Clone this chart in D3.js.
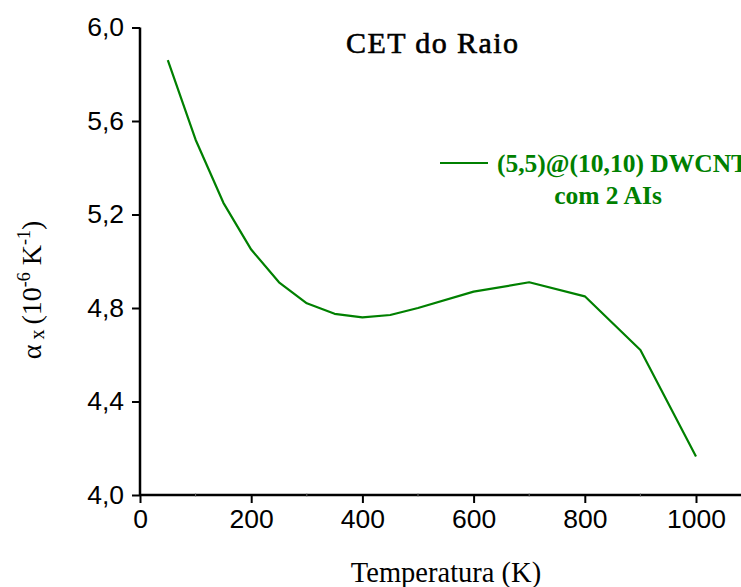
<!DOCTYPE html>
<html>
<head>
<meta charset="utf-8">
<script src="https://cdn.jsdelivr.net/npm/d3@7/dist/d3.min.js"></script>
<style>
  html, body { margin: 0; padding: 0; background: #fff; }
  svg { display: block; }
</style>
</head>
<body>
<svg id="chart" width="741" height="587"></svg>
<script>
// Thermal expansion coefficient along x vs temperature
const temperatures = [50, 100, 150, 200, 250, 300, 350, 400, 450, 500, 600, 700, 800, 900, 1000];
const alphaX = [5.86, 5.52, 5.25, 5.05, 4.91, 4.82, 4.775, 4.76, 4.77, 4.80, 4.87, 4.91, 4.85, 4.62, 4.165];
const xTicks = [0, 200, 400, 600, 800, 1000];
const xMinorTicks = [100, 300, 500, 700, 900, 1100];
const yTicks = [4.0, 4.4, 4.8, 5.2, 5.6, 6.0];
const seriesName = ["(5,5)@(10,10) DWCNT", "com 2 AIs"];
const chartTitle = "CET do Raio";
const xTitle = "Temperatura (K)";

const svg = d3.select("#chart");
const green = "#008000";

const plotLeft = 140, plotTop = 27.5, plotBottom = 495;
const x = d3.scaleLinear().domain([0, 1100]).range([plotLeft, plotLeft + 1100 * 0.556]);
const y = d3.scaleLinear().domain([4.0, 6.0]).range([plotBottom, plotTop]);

const pt = d3.formatLocale({ decimal: ",", thousands: ".", grouping: [3], currency: ["", ""] });
const fmtY = pt.format(".1f");

// x axis
const xAxis = svg.append("g")
  .attr("transform", `translate(0,${plotBottom})`)
  .call(d3.axisBottom(x).tickValues(xTicks).tickSize(8).tickPadding(6).tickFormat(d3.format("d")));
xAxis.select(".domain").attr("stroke", "#000").attr("stroke-width", 2.5).attr("d", `M${plotLeft},0H${x(1100)}`);
xAxis.selectAll(".tick line").attr("stroke", "#000").attr("stroke-width", 2);
xAxis.selectAll(".tick text")
  .attr("font-family", "Liberation Sans, Arial, sans-serif")
  .attr("font-size", 26.5).attr("fill", "#000");

// minor ticks on x (very short)
svg.append("g").selectAll("line").data(xMinorTicks).join("line")
  .attr("x1", d => x(d)).attr("x2", d => x(d))
  .attr("y1", plotBottom - 1.5).attr("y2", plotBottom + 1.5)
  .attr("stroke", "#666").attr("stroke-width", 1);

// y axis
const yAxis = svg.append("g")
  .attr("transform", `translate(${plotLeft},0)`)
  .call(d3.axisLeft(y).tickValues(yTicks).tickSize(8).tickPadding(8).tickFormat(fmtY));
yAxis.select(".domain").attr("stroke", "#000").attr("stroke-width", 2.5).attr("d", `M0,${plotTop}V${plotBottom}`);
yAxis.selectAll(".tick line").attr("stroke", "#000").attr("stroke-width", 2);
yAxis.selectAll(".tick text")
  .attr("font-family", "Liberation Sans, Arial, sans-serif")
  .attr("font-size", 26.5).attr("fill", "#000");

// data line
const line = d3.line().x((d, i) => x(temperatures[i])).y(d => y(d));
svg.append("path")
  .datum(alphaX)
  .attr("d", line)
  .attr("fill", "none")
  .attr("stroke", green)
  .attr("stroke-width", 2.2)
  .attr("stroke-linejoin", "round");

// title
svg.append("text")
  .attr("x", 432).attr("y", 53)
  .attr("text-anchor", "middle")
  .attr("font-family", "Liberation Serif, Times New Roman, serif")
  .attr("font-size", 30)
  .attr("textLength", 172)
  .attr("fill", "#000")
  .attr("stroke", "#000")
  .attr("stroke-width", 0.6)
  .text(chartTitle);

// x axis title
svg.append("text")
  .attr("x", 446).attr("y", 582)
  .attr("text-anchor", "middle")
  .attr("font-family", "Liberation Serif, Times New Roman, serif")
  .attr("font-size", 28.5)
  .attr("fill", "#000")
  .text(xTitle);

// y axis title: alpha_x (10^-6 K^-1)
const yt = svg.append("text")
  .attr("transform", "translate(41,290) rotate(-90)")
  .attr("text-anchor", "middle")
  .attr("font-family", "Liberation Serif, Times New Roman, serif")
  .attr("font-size", 28)
  .attr("fill", "#000");
yt.append("tspan").text("α");
yt.append("tspan").attr("font-size", 20).attr("dy", 3).text(" x ");
yt.append("tspan").attr("dy", -3).text("(10");
yt.append("tspan").attr("font-size", 18).attr("dy", -11).text("-6");
yt.append("tspan").attr("dy", 11).text(" K");
yt.append("tspan").attr("font-size", 18).attr("dy", -11).text("-1");
yt.append("tspan").attr("dy", 11).text(")");

// legend
svg.append("line")
  .attr("x1", 440).attr("x2", 488).attr("y1", 163).attr("y2", 163)
  .attr("stroke", green).attr("stroke-width", 2.2);
svg.append("text")
  .attr("x", 497).attr("y", 172)
  .attr("font-family", "Liberation Serif, Times New Roman, serif")
  .attr("font-size", 25.5).attr("font-weight", "bold")
  .attr("fill", green)
  .text(seriesName[0]);
svg.append("text")
  .attr("x", 608).attr("y", 204)
  .attr("text-anchor", "middle")
  .attr("font-family", "Liberation Serif, Times New Roman, serif")
  .attr("font-size", 25.5).attr("font-weight", "bold")
  .attr("fill", green)
  .text(seriesName[1]);
</script>
</body>
</html>
